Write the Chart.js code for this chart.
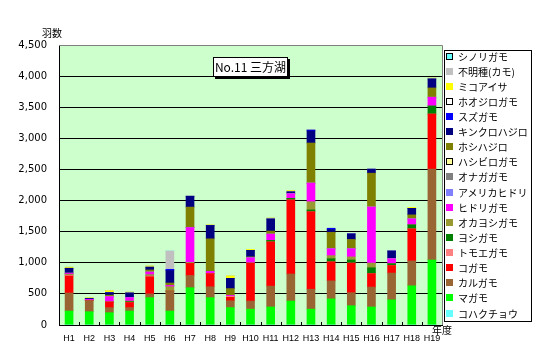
<!DOCTYPE html>
<html>
<head>
<meta charset="utf-8">
<script src="https://cdn.jsdelivr.net/npm/chart.js@4"></script>
<style>
  body { margin: 0; background: #fff; }
  #wrap { position: relative; width: 545px; height: 360px; font-family: 'Noto Sans CJK JP', sans-serif; }
  canvas { position: absolute; left: 0; top: 0; }
  .lbl { position: absolute; font-size: 10px; color: #000; line-height: 12px; white-space: nowrap; }
  #title { position: absolute; left: 213px; top: 57px; width: 73px; height: 18px; border: 1px solid #000;
           background: #fff; box-shadow: 2px 2px 0 #000; font-size: 12px; line-height: 18px; text-align: center; white-space: nowrap; }
  #legend { position: absolute; left: 444px; top: 50px; width: 86px; height: 270px; border: 1px solid #000; background: #fff; }
  .item { position: absolute; left: 1px; height: 15px; font-size: 10px; line-height: 15px; white-space: nowrap; }
  .sw { position: absolute; left: 0; top: 4px; width: 7px; height: 7px; box-sizing: border-box; }
  .tx { position: absolute; left: 12px; top: 0; }
</style>
</head>
<body>
<div id="wrap">
  <canvas id="c" width="545" height="360"></canvas>
  <div class="lbl" style="left:42px;top:27px;">羽数</div>
  <div class="lbl" style="left:432px;top:324px;">年度</div>
  <div id="title">No.11 三方湖</div>
  <div id="legend"></div>
</div>
<script>
// ── Data ─────────────────────────────────────────────
const years = ['H1','H2','H3','H4','H5','H6','H7','H8','H9','H10','H11','H12','H13','H14','H15','H16','H17','H18','H19'];
const yTicks = [0, 500, 1000, 1500, 2000, 2500, 3000, 3500, 4000, 4500];

const kohakucho   = [0,0,0,0,0,0,0,0,0,0,0,0,0,0,0,0,0,0,0];
const magamo      = [225,214,198,225,440,225,600,440,280,255,290,385,255,420,310,290,405,630,1045];
const karugamo    = [290,177,81,55,60,320,195,175,110,130,335,435,320,290,210,320,430,400,1460];
const kogamo      = [272,0,91,80,275,0,195,210,55,610,710,1190,1245,305,475,215,120,515,885];
const tomoegamo   = [15,0,0,0,15,0,0,0,15,0,0,0,0,0,0,0,0,0,0];
const yoshigamo   = [0,0,0,15,0,0,0,0,0,0,25,25,30,50,50,95,30,65,130];
const okayoshigamo= [15,0,0,10,20,70,15,0,0,0,0,0,130,50,50,75,0,0,0];
const hidorigamo  = [15,20,85,55,40,20,560,35,15,85,100,75,300,110,130,900,80,95,140];
const americahidori=[0,0,0,0,0,0,0,0,0,0,0,0,0,0,0,0,0,0,0];
const onagagamo   = [0,0,0,0,0,0,0,0,0,0,0,0,0,0,0,0,0,0,0];
const hashibirogamo=[0,0,0,0,0,0,0,0,0,0,0,0,0,0,0,0,0,0,0];
const hoshihajiro = [0,0,25,0,35,40,330,525,110,15,50,0,645,265,150,545,0,65,150];
const kinkurohajiro=[80,15,40,75,45,200,175,215,165,105,195,30,195,45,90,65,125,105,145];
const suzugamo    = [0,0,0,0,0,20,0,0,0,0,0,0,15,20,0,0,0,0,0];
const hoojirogamo = [0,0,0,0,0,0,0,0,0,0,0,0,0,0,0,0,0,0,0];
const mikoaisa    = [18,12,32,15,20,0,0,10,40,15,15,20,0,0,0,0,0,15,15];
const fumeishu    = [0,0,0,0,0,295,0,0,0,0,0,0,0,0,0,0,0,0,0];
const shinorigamo = [0,0,0,0,0,0,0,0,0,0,0,0,0,0,0,0,0,0,0];

// bottom of stack first
const series = [
  ['コハクチョウ',   kohakucho,     '#66ffff', false],
  ['マガモ',         magamo,        '#00ff00', false],
  ['カルガモ',       karugamo,      '#996633', false],
  ['コガモ',         kogamo,        '#ff0000', false],
  ['トモエガモ',     tomoegamo,     '#ff8080', false],
  ['ヨシガモ',       yoshigamo,     '#008000', false],
  ['オカヨシガモ',   okayoshigamo,  '#999933', false],
  ['ヒドリガモ',     hidorigamo,    '#ff00ff', false],
  ['アメリカヒドリ', americahidori, '#8080ff', false],
  ['オナガガモ',     onagagamo,     '#808080', false],
  ['ハシビロガモ',   hashibirogamo, '#ffff99', true],
  ['ホシハジロ',     hoshihajiro,   '#808000', false],
  ['キンクロハジロ', kinkurohajiro, '#000080', false],
  ['スズガモ',       suzugamo,      '#0000ff', false],
  ['ホオジロガモ',   hoojirogamo,   '#ffffff', true],
  ['ミコアイサ',     mikoaisa,      '#ffff00', false],
  ['不明種(カモ)',   fumeishu,      '#c0c0c0', false],
  ['シノリガモ',     shinorigamo,   '#66ffff', true]
];

// ── Legend (HTML, top = last series) ────────────────
const legend = document.getElementById('legend');
series.slice().reverse().forEach((s, i) => {
  const it = document.createElement('div');
  it.className = 'item';
  it.style.top = (i * 15.12 - 2.5) + 'px';
  const sw = document.createElement('span');
  sw.className = 'sw';
  sw.style.background = s[2];
  if (s[3]) sw.style.border = '1px solid #000';
  const tx = document.createElement('span');
  tx.className = 'tx';
  tx.textContent = s[0];
  it.appendChild(sw); it.appendChild(tx);
  legend.appendChild(it);
});

// ── Plot decorations ────────────────────────────────
const plotDeco = {
  id: 'plotDeco',
  beforeDraw(chart) {
    const { ctx, chartArea: a } = chart;
    ctx.save();
    ctx.fillStyle = '#ccffcc';
    ctx.fillRect(a.left, a.top, a.right - a.left, a.bottom - a.top);
    ctx.restore();
  },
  afterDraw(chart) {
    const { ctx, chartArea: a } = chart;
    const xs = chart.scales.x;
    ctx.save();
    // gray frame top + right
    ctx.strokeStyle = '#808080';
    ctx.lineWidth = 1;
    ctx.beginPath();
    ctx.moveTo(a.left, a.top + 0.5); ctx.lineTo(a.right + 0.5, a.top + 0.5);
    ctx.lineTo(a.right + 0.5, a.bottom);
    ctx.stroke();
    // small inside ticks between categories
    ctx.strokeStyle = '#000';
    const step = (a.right - a.left) / years.length;
    ctx.beginPath();
    for (let i = 1; i < years.length; i++) {
      const x = Math.round(xs.getPixelForValue(i) - step / 2) + 0.5;
      ctx.moveTo(x, a.bottom); ctx.lineTo(x, a.bottom - 3);
    }
    ctx.stroke();
    ctx.restore();
  }
};

new Chart(document.getElementById('c').getContext('2d'), {
  type: 'bar',
  data: {
    labels: years,
    datasets: series.map(s => ({
      label: s[0],
      data: s[1],
      backgroundColor: s[2],
      borderWidth: 0,
      barThickness: 8
    }))
  },
  options: {
    responsive: false,
    animation: false,
    devicePixelRatio: 1,
    layout: { padding: { top: 45, right: 103, left: 0, bottom: 0 } },
    plugins: { legend: { display: false }, tooltip: { enabled: false } },
    scales: {
      x: {
        stacked: true,
        afterFit: s => { s.height = 35; },
        grid: { display: false, drawTicks: false },
        border: { color: '#000', width: 1 },
        ticks: { color: '#000', padding: 8, maxRotation: 0, autoSkip: false,
                 font: { family: 'Liberation Sans', size: 9 } }
      },
      y: {
        stacked: true,
        min: 0, max: 4500,
        afterFit: s => { s.width = 59; },
        afterBuildTicks: s => { s.ticks = yTicks.map(v => ({ value: v })); },
        grid: {
          color: c => c.tick && c.tick.value === 4500 ? 'rgba(0,0,0,0)' : '#000',
          lineWidth: 1, drawTicks: false
        },
        border: { color: '#000', width: 1 },
        ticks: { color: '#000', padding: 12,
                 font: { family: 'DejaVu Sans', size: 10 },
                 callback: v => v.toLocaleString('en-US') }
      }
    }
  },
  plugins: [plotDeco]
});
</script>
</body>
</html>
